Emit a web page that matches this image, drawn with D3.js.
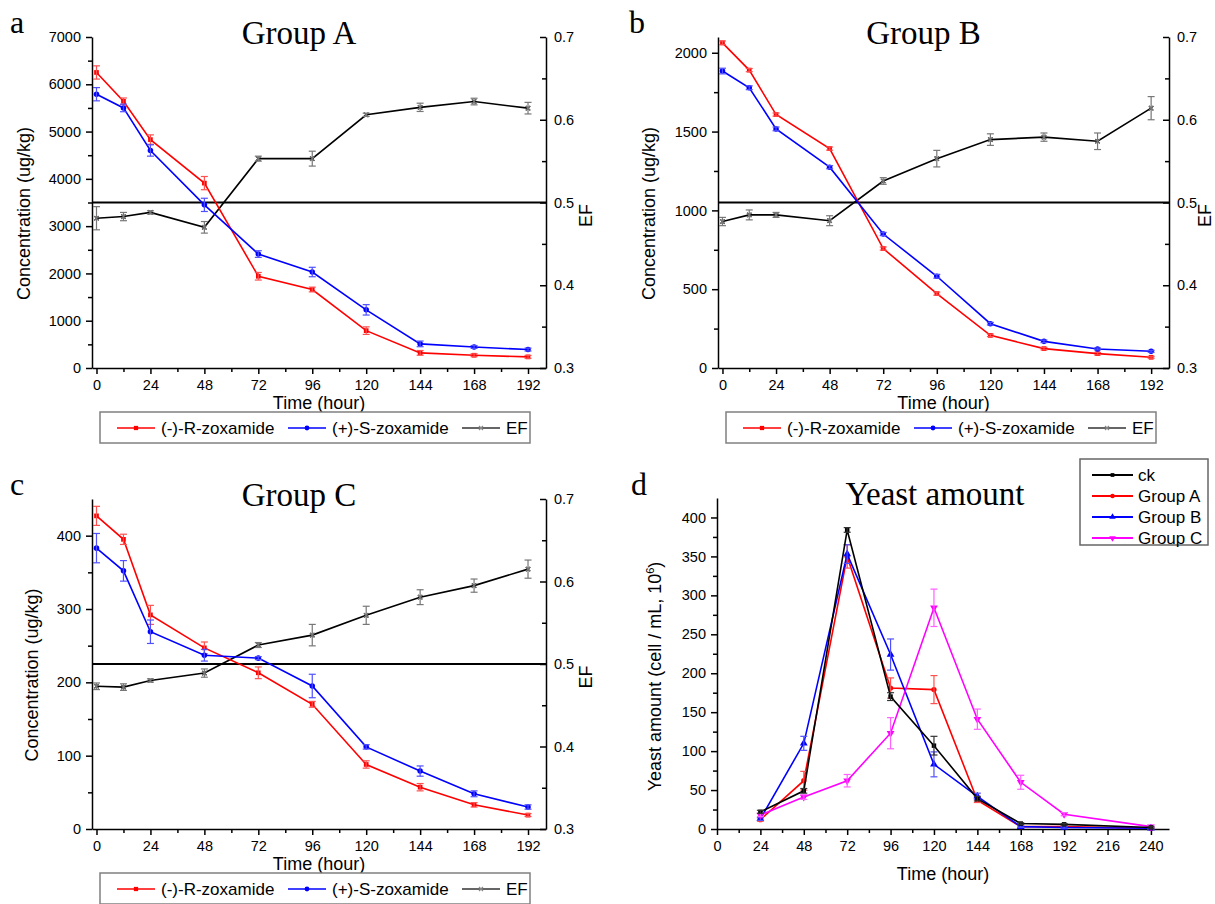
<!DOCTYPE html>
<html>
<head>
<meta charset="utf-8">
<script src="https://cdn.jsdelivr.net/npm/d3@7"></script>
<style>
body{margin:0;background:#fff;}
svg text{font-family:"Liberation Sans",Arial,sans-serif;fill:#000;}
.axis path,.axis line{stroke:#000;stroke-width:1.5;}
.axis text{font-size:14.5px;}
.title{font-family:"Liberation Serif","Times New Roman",serif !important;font-size:33px;}
.letter{font-family:"Liberation Serif","Times New Roman",serif !important;font-size:32px;}
.lab{font-size:18px;}
.leg{font-size:17px;}
</style>
</head>
<body>
<svg id="fig" width="1215" height="904"></svg>
<script>
// ---- data ----
const hours = [0,12,24,48,72,96,120,144,168,192];
const timeTicks = [0,24,48,72,96,120,144,168,192];
const efTicks = [0.3,0.4,0.5,0.6,0.7];

const aR = [6250,5640,4830,3910,1940,1660,790,320,270,235];
const aRErr = [140,70,100,140,80,50,80,50,30,30];
const aS = [5790,5500,4600,3450,2410,2030,1230,510,445,390];
const aSErr = [140,80,120,140,70,100,110,60,30,30];
const aEF = [0.481,0.483,0.488,0.470,0.553,0.553,0.606,0.615,0.622,0.614];
const aEFErr = [0.014,0.005,0.002,0.007,0.003,0.009,0.002,0.005,0.004,0.007];
const aTicks = [0,1000,2000,3000,4000,5000,6000,7000];

const bR = [2063,1890,1608,1392,758,472,207,123,91,68];
const bRErr = [12,10,10,10,10,10,8,8,8,6];
const bS = [1884,1778,1517,1274,850,582,281,169,121,106];
const bSErr = [18,12,12,10,10,12,8,8,6,6];
const bEF = [0.477,0.485,0.485,0.478,0.526,0.553,0.576,0.579,0.574,0.614];
const bEFErr = [0.005,0.006,0.003,0.006,0.004,0.010,0.007,0.005,0.010,0.014];
const bTicks = [0,500,1000,1500,2000];

const cR = [427,395,292,247,213,170,88,57,33,19];
const cRErr = [13,7,13,8,8,4,5,5,3,2];
const cS = [383,352,269,237,233,195,112,79,48,30];
const cSErr = [20,14,16,8,2,16,3,7,4,3];
const cEF = [0.473,0.472,0.480,0.489,0.523,0.535,0.559,0.581,0.595,0.615];
const cEFErr = [0.004,0.004,0.002,0.005,0.003,0.013,0.011,0.009,0.008,0.011];
const cTicks = [0,100,200,300,400];

const yeastHours = [24,48,72,96,120,144,168,192,240];
const yeastTimeTicks = [0,24,48,72,96,120,144,168,192,216,240];
const yeastTicks = [0,50,100,150,200,250,300,350,400];
const ck = [22,49,384,170,107,39,7,6,2];
const ckErr = [2,3,3,5,12,3,1,1,1];
const yA = [12,62,350,181,179,37,3,3,1];
const yAErr = [2,12,15,13,18,3,1,1,1];
const yB = [13,110,353,224,83,42,3,2,1];
const yBErr = [2,9,12,20,16,4,1,1,1];
const yC = [18,41,62,123,284,141,60,19,3];
const yCErr = [2,3,8,20,24,13,9,2,1];

const concNames = ["(-)-R-zoxamide","(+)-S-zoxamide","EF"];
const yeastNames = ["ck","Group A","Group B","Group C"];

// ---- drawing ----
const svg = d3.select("#fig");
const RED = "#ff0000", BLUE = "#0000ff", MAG = "#ff00ff";
const xSym = d3.symbolX || d3.symbolCross;
const intFmt = d3.format("d");

function errBars(g, xs, vs, es, x, y, color){
    xs.forEach((h,i)=>{
        const cx = x(h), y1 = y(vs[i]-es[i]), y2 = y(vs[i]+es[i]);
        g.append("line").attr("x1",cx).attr("x2",cx).attr("y1",y1).attr("y2",y2)
            .attr("stroke",color).attr("stroke-width",1.2);
        [y1,y2].forEach(yy=>g.append("line").attr("x1",cx-3.5).attr("x2",cx+3.5)
            .attr("y1",yy).attr("y2",yy).attr("stroke",color).attr("stroke-width",1.2));
    });
}

function series(g, xs, vs, x, y, color, sym, size, rot){
    const line = d3.line().x((d,i)=>x(xs[i])).y(d=>y(d));
    g.append("path").datum(vs).attr("d",line).attr("fill","none")
        .attr("stroke",color).attr("stroke-width",1.6);
    marks(g, xs.map((h,i)=>[x(h),y(vs[i])]), color, sym, size, rot);
}

function marks(g, pts, color, sym, size, rot){
    const stroke = sym === xSym;
    g.selectAll(null).data(pts).enter().append("path")
        .attr("d", d3.symbol().type(sym).size(size))
        .attr("transform", d=>`translate(${d[0]},${d[1]})` + (rot ? ` rotate(${rot})` : ""))
        .attr("fill", stroke ? "none" : color)
        .attr("stroke", stroke ? color : "none")
        .attr("stroke-width", 1.2);
}

function minor(g, axisFn, scale, vals, size){
    g.append("g").attr("class","axis")
        .call(axisFn(scale).tickValues(vals).tickSize(size).tickSizeOuter(0).tickFormat(""))
        .select(".domain").remove();
}

function concPanel(p){
    const x = d3.scaleLinear().domain([-2,200]).range([p.left,p.right]);
    const y = d3.scaleLinear().domain([0,p.yMax]).range([p.bottom,p.top]);
    const ef = d3.scaleLinear().domain([0.3,0.7]).range([p.bottom,p.top]);
    const g = svg.append("g");

    // axes
    const gx = g.append("g").attr("class","axis").attr("transform",`translate(0,${p.bottom})`);
    gx.call(d3.axisBottom(x).tickValues(timeTicks).tickSize(6).tickSizeOuter(0).tickPadding(6));
    minor(gx, d3.axisBottom, x, d3.range(12,192,24), 4);

    const gy = g.append("g").attr("class","axis").attr("transform",`translate(${p.left},0)`);
    gy.call(d3.axisLeft(y).tickValues(p.ticks).tickSize(6).tickSizeOuter(0).tickPadding(5).tickFormat(intFmt));
    minor(gy, d3.axisLeft, y, p.ticks.slice(0,-1).map(v=>v+p.minorStep).filter(v=>v<p.yMax), 4);

    const gr = g.append("g").attr("class","axis").attr("transform",`translate(${p.right},0)`);
    gr.call(d3.axisRight(ef).tickValues(efTicks).tickSize(-6).tickSizeOuter(0).tickPadding(8).tickFormat(d3.format(".1f")));
    minor(gr, d3.axisRight, ef, [0.35,0.45,0.55,0.65], -4);

    // titles
    g.append("text").attr("class","letter").attr("x",p.letterX).attr("y",p.top-4).text(p.letter);
    g.append("text").attr("class","title").attr("text-anchor","middle")
        .attr("x",(p.left+p.right)/2-20).attr("y",p.top+7).text(p.title);
    g.append("text").attr("class","lab").attr("text-anchor","middle")
        .attr("x",(p.left+p.right)/2).attr("y",p.bottom+41).text("Time (hour)");
    g.append("text").attr("class","lab").attr("text-anchor","middle")
        .attr("transform",`translate(${p.left-p.yTitleOff},${(p.top+p.bottom)/2+11}) rotate(-90)`)
        .text("Concentration (ug/kg)");
    g.append("text").attr("class","lab").attr("text-anchor","middle")
        .attr("transform",`translate(${Math.min(p.right+46,1211)},${(p.top+p.bottom)/2+13}) rotate(-90)`)
        .text("EF");

    // EF = 0.5 reference
    g.append("line").attr("x1",p.left).attr("x2",p.right).attr("y1",ef(0.5)).attr("y2",ef(0.5))
        .attr("stroke","#000").attr("stroke-width",2);

    // series
    series(g, hours, p.ef, x, ef, "#000", xSym, 14);
    errBars(g, hours, p.ef, p.efErr, x, ef, "#777");
    marks(g, hours.map((h,i)=>[x(h),ef(p.ef[i])]), "#777", xSym, 14);
    series(g, hours, p.r, x, y, RED, d3.symbolSquare, 22);
    errBars(g, hours, p.r, p.rErr, x, y, "#ff5050");
    series(g, hours, p.s, x, y, BLUE, d3.symbolCircle, 24);
    errBars(g, hours, p.s, p.sErr, x, y, "#5050ff");

    // legend
    const lx = p.left+8, ly = p.bottom+44;
    g.append("rect").attr("x",lx).attr("y",ly).attr("width",430).attr("height",31)
        .attr("fill","#fff").attr("stroke","#808080").attr("stroke-width",1.5);
    const items = [
        {name:concNames[0], color:RED, sym:d3.symbolSquare, size:18, off:17},
        {name:concNames[1], color:BLUE, sym:d3.symbolCircle, size:18, off:188},
        {name:concNames[2], color:"#333", sym:xSym, size:12, off:362}
    ];
    items.forEach(it=>{
        const x0 = lx+it.off, yy = ly+16;
        g.append("line").attr("x1",x0).attr("x2",x0+38).attr("y1",yy).attr("y2",yy)
            .attr("stroke",it.color).attr("stroke-width",1.6);
        marks(g, [[x0+19,yy]], it.sym===xSym ? "#888" : it.color, it.sym, it.size);
        g.append("text").attr("class","leg").attr("x",x0+44).attr("y",yy+6).text(it.name);
    });
}

concPanel({left:92,right:546,top:37,bottom:368,yMax:7000,ticks:aTicks,minorStep:500,
    r:aR,rErr:aRErr,s:aS,sErr:aSErr,ef:aEF,efErr:aEFErr,
    letter:"a",letterX:10,title:"Group A",yTitleOff:62});
concPanel({left:718,right:1169,top:37,bottom:368,yMax:2100,ticks:bTicks,minorStep:250,
    r:bR,rErr:bRErr,s:bS,sErr:bSErr,ef:bEF,efErr:bEFErr,
    letter:"b",letterX:629,title:"Group B",yTitleOff:63});
concPanel({left:92,right:546,top:499,bottom:829,yMax:450,ticks:cTicks,minorStep:50,
    r:cR,rErr:cRErr,s:cS,sErr:cSErr,ef:cEF,efErr:cEFErr,
    letter:"c",letterX:10,title:"Group C",yTitleOff:54});

// ---- panel d ----
(function(){
    const left=717, right=1169, top=498, bottom=829;
    const x = d3.scaleLinear().domain([0,250]).range([left,right]);
    const y = d3.scaleLinear().domain([0,425]).range([bottom,top]);
    const g = svg.append("g");

    const gx = g.append("g").attr("class","axis").attr("transform",`translate(0,${bottom})`);
    gx.call(d3.axisBottom(x).tickValues(yeastTimeTicks).tickSize(6).tickSizeOuter(0).tickPadding(6));
    minor(gx, d3.axisBottom, x, d3.range(12,250,24), 4);
    const gy = g.append("g").attr("class","axis").attr("transform",`translate(${left},0)`);
    gy.call(d3.axisLeft(y).tickValues(yeastTicks).tickSize(6).tickSizeOuter(0).tickPadding(5));
    minor(gy, d3.axisLeft, y, d3.range(25,425,50), 4);

    g.append("text").attr("class","letter").attr("x",631).attr("y",495).text("d");
    g.append("text").attr("class","title").attr("text-anchor","middle")
        .attr("x",935).attr("y",505).text("Yeast amount");
    g.append("text").attr("class","lab").attr("text-anchor","middle")
        .attr("x",(left+right)/2).attr("y",bottom+51).text("Time (hour)");
    const yt = g.append("text").attr("class","lab").attr("text-anchor","middle")
        .attr("transform",`translate(${left-56},${(top+bottom)/2+13}) rotate(-90)`);
    yt.append("tspan").text("Yeast amount (cell / mL, 10");
    yt.append("tspan").attr("font-size","11px").attr("dy",-7).text("6");
    yt.append("tspan").attr("dy",7).text(")");

    const sets = [
        {v:yA,e:yAErr,color:RED,err:"#ff5050",sym:d3.symbolCircle,size:22},
        {v:yB,e:yBErr,color:BLUE,err:"#5050ff",sym:d3.symbolTriangle,size:26},
        {v:yC,e:yCErr,color:MAG,err:"#ff60ff",sym:d3.symbolTriangle,size:26,rot:180},
        {v:ck,e:ckErr,color:"#000",err:"#333",sym:d3.symbolSquare,size:20}
    ];
    sets.forEach(s=>{
        series(g, yeastHours, s.v, x, y, s.color, s.sym, s.size, s.rot);
        errBars(g, yeastHours, s.v, s.e, x, y, s.err);
    });

    // legend
    g.append("rect").attr("x",1080).attr("y",459).attr("width",128).attr("height",86)
        .attr("fill","#fff").attr("stroke","#666").attr("stroke-width",1.5);
    const leg = [
        {color:"#000",sym:d3.symbolSquare,size:14},
        {color:RED,sym:d3.symbolCircle,size:16},
        {color:BLUE,sym:d3.symbolTriangle,size:18},
        {color:MAG,sym:d3.symbolTriangle,size:18,rot:180}
    ];
    leg.forEach((it,i)=>{
        const yy = 475 + i*21;
        g.append("line").attr("x1",1092).attr("x2",1133).attr("y1",yy).attr("y2",yy)
            .attr("stroke",it.color).attr("stroke-width",2);
        marks(g, [[1112.5,yy]], it.color, it.sym, it.size, it.rot);
        g.append("text").attr("class","leg").attr("x",1138).attr("y",yy+6).text(yeastNames[i]);
    });
})();
</script>
</body>
</html>
